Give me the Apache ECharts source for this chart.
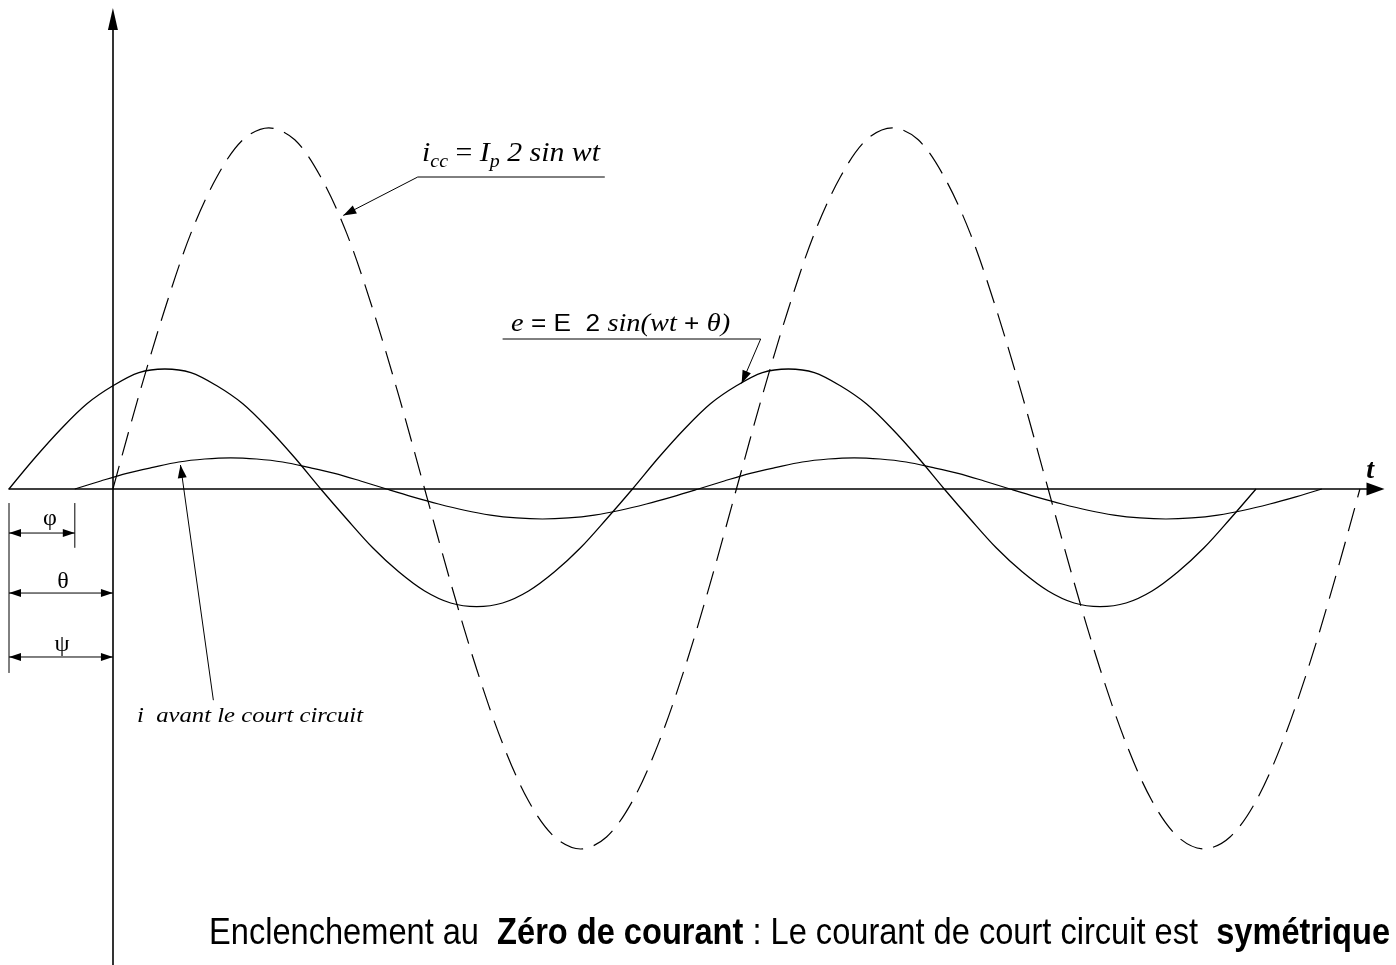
<!DOCTYPE html>
<html>
<head>
<meta charset="utf-8">
<script src="https://cdn.jsdelivr.net/npm/echarts@6/dist/echarts.min.js"></script>
<style>
  html, body { margin: 0; padding: 0; background: #fff; }
  #main { width: 1396px; height: 965px; }
</style>
</head>
<body>
<div id="main"></div>
<script>
// Phase angle wt in degrees; amplitudes in units of the source voltage peak.

// e = E√2 sin(wt + θ) : source voltage
const eAngles = [-60, -45, -30, -15, 0, 15, 30, 45, 60, 75, 90, 105, 120, 135, 150, 165,
                 180, 195, 210, 225, 240, 255, 270, 285, 300, 315, 330, 345, 360, 375, 390, 405,
                 420, 435, 450, 465, 480, 495, 510, 525, 540, 555, 570, 585, 600, 615, 630, 645, 660];
const eValues = [0, 0.26, 0.50, 0.71, 0.86, 0.97, 1.00, 0.97, 0.86, 0.71, 0.50, 0.26,
                 0, -0.25, -0.49, -0.69, -0.85, -0.95, -0.98, -0.95, -0.85, -0.69, -0.49, -0.25,
                 0, 0.26, 0.50, 0.71, 0.86, 0.97, 1.00, 0.97, 0.86, 0.71, 0.50, 0.26,
                 0, -0.25, -0.49, -0.69, -0.85, -0.95, -0.98, -0.95, -0.85, -0.69, -0.49, -0.25, 0];

// i_cc = Ip√2 sin wt : short-circuit current (dashed)
const iccAngles = [0, 15, 30, 45, 60, 75, 90, 105, 120, 135, 150, 165, 180, 195, 210, 225,
                   240, 255, 270, 285, 300, 315, 330, 345, 360, 375, 390, 405, 420, 435, 450, 465,
                   480, 495, 510, 525, 540, 555, 570, 585, 600, 615, 630, 645, 660, 675, 690, 705, 720];
const iccValues = [0, 0.78, 1.50, 2.13, 2.60, 2.91, 3.01, 2.91, 2.60, 2.13, 1.50, 0.78,
                   0, -0.78, -1.50, -2.12, -2.60, -2.90, -3.00, -2.90, -2.60, -2.12, -1.50, -0.78,
                   0, 0.78, 1.50, 2.13, 2.60, 2.91, 3.01, 2.91, 2.60, 2.13, 1.50, 0.78,
                   0, -0.78, -1.50, -2.12, -2.60, -2.90, -3.00, -2.90, -2.60, -2.12, -1.50, -0.78, 0];

// i : load current before the fault
const iAngles = [-22, -7, 8, 23, 38, 53, 68, 83, 98, 113, 128, 143, 158, 173, 188, 203,
                 218, 233, 248, 263, 278, 293, 308, 323, 338, 353, 368, 383, 398, 413, 428, 443,
                 458, 473, 488, 503, 518, 533, 548, 563, 578, 593, 608, 623, 638, 653, 668, 683, 698];
const iValues = [0, 0.067, 0.13, 0.18, 0.225, 0.25, 0.26, 0.25, 0.225, 0.18, 0.13, 0.067,
                 0, -0.065, -0.125, -0.177, -0.217, -0.241, -0.25, -0.241, -0.217, -0.177, -0.125, -0.065,
                 0, 0.067, 0.13, 0.18, 0.225, 0.25, 0.26, 0.25, 0.225, 0.18, 0.13, 0.067,
                 0, -0.065, -0.125, -0.177, -0.217, -0.241, -0.25, -0.241, -0.217, -0.177, -0.125, -0.065, 0];

const xRange = [-60, 729];
const yRange = [-3.9667, 3.9167];

const zip = (a, b) => a.map((x, k) => [x, b[k]]);
const INK = '#000';

const chart = echarts.init(document.getElementById('main'), null, { renderer: 'canvas' });

chart.setOption({
  animation: false,
  backgroundColor: '#fff',
  grid: { left: 9, right: 20.5, top: 19, bottom: 0, containLabel: false, outerBoundsMode: 'none' },
  xAxis: {
    type: 'value', min: xRange[0], max: xRange[1],
    axisLine: { show: true, onZero: true, symbol: ['none', 'triangle'], symbolSize: [13, 18],
                lineStyle: { color: INK, width: 1.6 } },
    axisTick: { show: false }, axisLabel: { show: false }, splitLine: { show: false }
  },
  yAxis: {
    type: 'value', min: yRange[0], max: yRange[1],
    axisLine: { show: true, onZero: true, symbol: ['none', 'triangle'], symbolSize: [10, 22],
                lineStyle: { color: INK, width: 1.6 } },
    axisTick: { show: false }, axisLabel: { show: false }, splitLine: { show: false }
  },
  series: [
    { name: 'icc', type: 'line', data: zip(iccAngles, iccValues), smooth: 0.33, showSymbol: false,
      lineStyle: { color: INK, width: 1.2, type: [24, 11] } },
    { name: 'e', type: 'line', data: zip(eAngles, eValues), smooth: 0.33, showSymbol: false,
      lineStyle: { color: INK, width: 1.3 } },
    { name: 'i', type: 'line', data: zip(iAngles, iValues), smooth: 0.33, showSymbol: false,
      lineStyle: { color: INK, width: 1.2 } }
  ]
});

// ---- annotations ----
const P = (a, v) => chart.convertToPixel({ gridIndex: 0 }, [a, v]);
const gfx = [];

function seg(p, q, w) {
  gfx.push({ type: 'line', shape: { x1: p[0], y1: p[1], x2: q[0], y2: q[1] },
             style: { stroke: INK, lineWidth: w || 1 }, z: 10 });
}
function head(tip, from, len, half) {
  const dx = tip[0] - from[0], dy = tip[1] - from[1];
  const d = Math.hypot(dx, dy), ux = dx / d, uy = dy / d;
  const bx = tip[0] - len * ux, by = tip[1] - len * uy;
  gfx.push({ type: 'polygon', z: 10,
             shape: { points: [tip, [bx - half * uy, by + half * ux], [bx + half * uy, by - half * ux]] },
             style: { fill: INK } });
}
function leader(points, tip) {
  const pts = points.map(p => P(p[0], p[1]));
  const t = P(tip[0], tip[1]);
  pts.push(t);
  gfx.push({ type: 'polyline', z: 10, shape: { points: pts }, style: { stroke: INK, lineWidth: 1, fill: null } });
  head(t, pts[pts.length - 2], 13, 4.5);
}
function dimension(a0, a1, v) {
  const p = P(a0, v), q = P(a1, v);
  seg(p, q, 1);
  head(p, q, 12, 4);
  head(q, p, 12, 4);
}

// label leaders
leader([[284, 2.6], [176, 2.6]], [133, 2.28]);   // i_cc
leader([[225, 1.25], [374, 1.25]], [363, 0.88]); // e
leader([[58, -1.76]], [39, 0.2]);                // i before fault

// phase dimensions φ, θ, ψ
seg(P(eAngles[0], -0.117), P(eAngles[0], -1.533), 1);
seg(P(iAngles[0], -0.117), P(iAngles[0], -0.49), 1);
dimension(eAngles[0], iAngles[0], -0.367);
dimension(eAngles[0], 0, -0.867);
dimension(eAngles[0], 0, -1.4);

// text helpers
const mctx = document.createElement('canvas').getContext('2d');
function fontOf(s) {
  return (s.fontStyle || 'normal') + ' ' + (s.fontWeight || 'normal') + ' ' + s.fontSize + 'px ' + s.fontFamily;
}
function richLabel(parts, rich, at, width) {
  let natural = 0;
  parts.forEach(([k, t]) => { mctx.font = fontOf(rich[k]); natural += mctx.measureText(t).width; });
  const p = P(at[0], at[1]);
  return {
    type: 'text', x: p[0], y: p[1], scaleX: width / natural, z: 11,
    style: { text: parts.map(([k, t]) => '{' + k + '|' + t + '}').join(''), rich: rich,
             align: 'left', verticalAlign: 'middle', fill: INK }
  };
}
const SERIF = 'Liberation Serif', SANS = 'Liberation Sans';

// i_cc = Ip 2 sin wt
gfx.push(richLabel(
  [['it', 'i'], ['sub', 'cc'], ['up', ' = '], ['it', 'I'], ['sub', 'p'], ['it', ' 2 sin wt']],
  {
    it: { fontFamily: SERIF, fontStyle: 'italic', fontSize: 27, lineHeight: 34, verticalAlign: 'middle', fill: INK },
    up: { fontFamily: SERIF, fontSize: 27, lineHeight: 34, verticalAlign: 'middle', fill: INK },
    sub: { fontFamily: SERIF, fontStyle: 'italic', fontSize: 18, lineHeight: 14, verticalAlign: 'bottom', fill: INK }
  }, [178.5, 2.79], 178));

// e = E 2 sin(wt + θ)
gfx.push(richLabel(
  [['ei', 'e'], ['es', ' = E  2 '], ['ei', 'sin(wt'], ['es', ' + '], ['ei', 'θ)']],
  {
    ei: { fontFamily: SERIF, fontStyle: 'italic', fontSize: 26, lineHeight: 30, verticalAlign: 'middle', fill: INK },
    es: { fontFamily: SANS, fontSize: 24, lineHeight: 30, verticalAlign: 'middle', fill: INK }
  }, [229.9, 1.375], 219));

// i avant le court circuit
gfx.push(richLabel(
  [['it', 'i  avant le court circuit']],
  { it: { fontFamily: SERIF, fontStyle: 'italic', fontSize: 22, lineHeight: 26, verticalAlign: 'middle', fill: INK } },
  [13.9, -1.89], 226));

// caption
gfx.push(richLabel(
  [['n', 'Enclenchement au  '], ['b', 'Zéro de courant'], ['n', ' : Le courant de court circuit est  '], ['b', 'symétrique']],
  {
    n: { fontFamily: SANS, fontSize: 36, lineHeight: 42, verticalAlign: 'middle', fill: INK },
    b: { fontFamily: SANS, fontWeight: 'bold', fontSize: 36, lineHeight: 42, verticalAlign: 'middle', fill: INK }
  }, [55.5, -3.71], 1181));

// Greek phase symbols and the time label
function symbol(txt, a, v, font) {
  const p = P(a, v);
  gfx.push({ type: 'text', x: p[0], y: p[1], z: 11,
             style: { text: txt, font: font, fill: INK, align: 'center', verticalAlign: 'middle' } });
}
symbol('φ', -36.3, -0.25, '24px "Liberation Serif"');
symbol('θ', -28.8, -0.775, '24px "Liberation Serif"');
symbol('ψ', -29.4, -1.3, '24px "Liberation Serif"');
symbol('t', 725.9, 0.15, 'italic bold 28px "Liberation Serif"');

chart.setOption({ graphic: gfx });
</script>
</body>
</html>
